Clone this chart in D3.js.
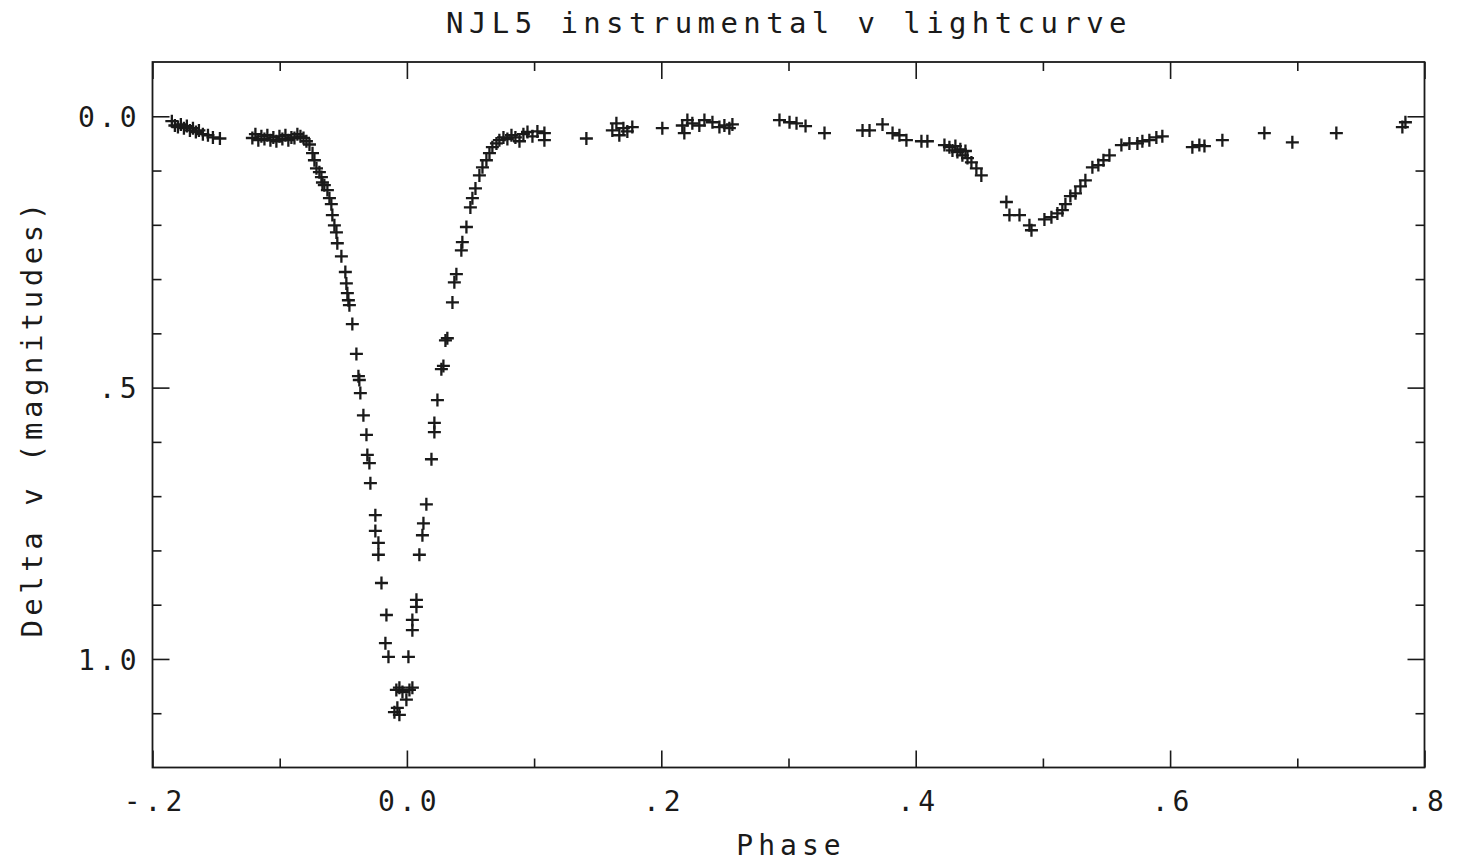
<!DOCTYPE html>
<html>
<head>
<meta charset="utf-8">
<script src="https://cdn.jsdelivr.net/npm/d3@7"></script>
<style>
  html, body { margin: 0; padding: 0; background: #fff; }
  svg { display: block; }
  text { font-family: "DejaVu Sans Mono", "Liberation Mono", monospace; fill: #1a1a1a; }
</style>
</head>
<body>
<svg id="chart" width="1464" height="865"></svg>
<script>
// Orbital phase of each observation
const phase = [
  -0.1848, -0.1824, -0.1800, -0.1777, -0.1753, -0.1730, -0.1706, -0.1682, -0.1659, -0.1635,
  -0.1604, -0.1564, -0.1525, -0.1470,
  -0.1215, -0.1191, -0.1168, -0.1144, -0.1120, -0.1097, -0.1073, -0.1050, -0.1026, -0.1002,
  -0.0979, -0.0955, -0.0932, -0.0908, -0.0884, -0.0861, -0.0837, -0.0813, -0.0790, -0.0766,
  -0.0742, -0.0727, -0.0711, -0.0688, -0.0672, -0.0664, -0.0649, -0.0625, -0.0609, -0.0594,
  -0.0586, -0.0570, -0.0554, -0.0547, -0.0515, -0.0484, -0.0476, -0.0468, -0.0460, -0.0452,
  -0.0429, -0.0397, -0.0381, -0.0374, -0.0366, -0.0342, -0.0318, -0.0311, -0.0295, -0.0287,
  -0.0248, -0.0248, -0.0224, -0.0224, -0.0200, -0.0161, -0.0169, -0.0145,
  -0.0083, -0.0059, -0.0035, -0.0004, 0.0020, 0.0043, -0.0098, -0.0075, -0.0059,
  0.0012, 0.0043, 0.0043, 0.0075, 0.0075, 0.0098, 0.0122, 0.0130, 0.0153, 0.0193,
  0.0216, 0.0216, 0.0240, 0.0271, 0.0287, 0.0303, 0.0318, 0.0358, 0.0373, 0.0389,
  0.0428, 0.0436, 0.0468, 0.0499, 0.0515, 0.0539, 0.0570, 0.0594, 0.0625, 0.0649,
  0.0672, 0.0704, 0.0727, 0.0759, 0.0790, 0.0822, 0.0853, 0.0885, 0.0916, 0.0948,
  0.0987, 0.1026, 0.1081, 0.1081,
  0.1411, 0.1615, 0.1647, 0.1670, 0.1702, 0.1733, 0.1772, 0.2008, 0.2165, 0.2181,
  0.2205, 0.2244, 0.2299, 0.2339, 0.2402, 0.2457, 0.2496, 0.2535, 0.2559,
  0.2929, 0.3008, 0.3063, 0.3134, 0.3283, 0.3582, 0.3637, 0.3739, 0.3818, 0.3872,
  0.3927, 0.4045, 0.4092, 0.4226, 0.4265, 0.4289, 0.4312, 0.4328, 0.4351, 0.4367,
  0.4391, 0.4407, 0.4438, 0.4477, 0.4516,
  0.4713, 0.4737, 0.4816, 0.4894, 0.4910, 0.5012, 0.5067, 0.5114, 0.5153, 0.5177,
  0.5216, 0.5256, 0.5295, 0.5334, 0.5389, 0.5436, 0.5476, 0.5523, 0.5617, 0.5680,
  0.5743, 0.5782, 0.5837, 0.5892, 0.5939,
  0.6175, 0.6230, 0.6270, 0.6411, 0.6741, 0.6961, 0.7307, 0.7826, 0.7850
];

// Differential v magnitude at each phase
const deltaV = [
  0.009, 0.017, 0.020, 0.015, 0.022, 0.018, 0.026, 0.022, 0.029, 0.026,
  0.033, 0.035, 0.039, 0.041,
  0.040, 0.033, 0.044, 0.037, 0.042, 0.035, 0.044, 0.039, 0.046, 0.037,
  0.042, 0.035, 0.044, 0.039, 0.040, 0.033, 0.037, 0.040, 0.046, 0.052,
  0.068, 0.081, 0.096, 0.103, 0.112, 0.122, 0.127, 0.136, 0.151, 0.162,
  0.182, 0.201, 0.214, 0.234, 0.258, 0.287, 0.308, 0.326, 0.339, 0.348,
  0.383, 0.438, 0.479, 0.486, 0.510, 0.551, 0.587, 0.624, 0.639, 0.676,
  0.735, 0.764, 0.786, 0.808, 0.860, 0.919, 0.971, 0.996,
  1.057, 1.053, 1.061, 1.075, 1.057, 1.053, 1.098, 1.090, 1.103,
  0.996, 0.947, 0.928, 0.904, 0.891, 0.808, 0.772, 0.750, 0.715, 0.632,
  0.582, 0.565, 0.523, 0.466, 0.460, 0.413, 0.409, 0.343, 0.306, 0.291,
  0.247, 0.232, 0.204, 0.168, 0.151, 0.133, 0.109, 0.094, 0.081, 0.068,
  0.057, 0.050, 0.044, 0.039, 0.042, 0.035, 0.039, 0.046, 0.033, 0.029,
  0.037, 0.028, 0.031, 0.044,
  0.041, 0.026, 0.013, 0.035, 0.022, 0.028, 0.020, 0.022, 0.017, 0.031,
  0.007, 0.013, 0.017, 0.007, 0.011, 0.020, 0.017, 0.022, 0.015,
  0.007, 0.011, 0.013, 0.018, 0.031, 0.026, 0.026, 0.015, 0.031, 0.035,
  0.044, 0.046, 0.046, 0.053, 0.057, 0.063, 0.055, 0.066, 0.061, 0.072,
  0.064, 0.077, 0.085, 0.096, 0.109,
  0.158, 0.182, 0.182, 0.201, 0.210, 0.190, 0.186, 0.179, 0.173, 0.162,
  0.147, 0.142, 0.129, 0.118, 0.094, 0.090, 0.081, 0.072, 0.053, 0.050,
  0.050, 0.046, 0.044, 0.039, 0.037,
  0.057, 0.053, 0.055, 0.044, 0.031, 0.048, 0.031, 0.020, 0.011
];

// Axis ticks and their labels
const xMajorTicks = [-0.2, 0.0, 0.2, 0.4, 0.6, 0.8];
const xMajorLabels = ["-.2", "0.0", ".2", ".4", ".6", ".8"];
const xMinorTicks = [-0.1, 0.1, 0.3, 0.5, 0.7];
const yMajorTicks = [0.0, 0.5, 1.0];
const yMajorLabels = ["0.0", ".5", "1.0"];
const yMinorTicks = [0.1, 0.2, 0.3, 0.4, 0.6, 0.7, 0.8, 0.9, 1.1];

const titleText = "NJL5 instrumental v lightcurve";
const xTitle = "Phase";
const yTitle = "Delta v (magnitudes)";

const svg = d3.select("#chart");
const plotLeft = 152.5, plotRight = 1424.5, plotTop = 62, plotBottom = 767.5;
const ink = "#1a1a1a";

const x = d3.scaleLinear().domain([-0.2, 0.8]).range([plotLeft, plotRight]);
const y = d3.scaleLinear().domain([-0.1, 1.2]).range([plotTop, plotBottom]);

const majorLen = 17, minorLen = 9;

function styleAxis(g) {
  g.select(".domain").remove();
  g.selectAll(".tick line").attr("stroke", ink).attr("stroke-width", 1.6);
}

// Bottom axis (ticks point up into the plot)
svg.append("g").attr("transform", `translate(0,${plotBottom})`)
  .call(d3.axisBottom(x).tickValues(xMinorTicks).tickSize(-minorLen).tickFormat(""))
  .call(styleAxis);
const bx = svg.append("g").attr("transform", `translate(0,${plotBottom})`)
  .call(d3.axisBottom(x).tickValues(xMajorTicks).tickSize(-majorLen)
    .tickPadding(0).tickFormat((d, i) => xMajorLabels[i]))
  .call(styleAxis);
bx.selectAll(".tick text")
  .attr("y", 0).attr("dy", 0)
  .attr("transform", "translate(2,43)")
  .style("font-size", "28px").style("letter-spacing", "4px")
  .attr("fill", ink);

// Top axis (ticks point down)
svg.append("g").attr("transform", `translate(0,${plotTop})`)
  .call(d3.axisTop(x).tickValues(xMinorTicks).tickSize(-minorLen).tickFormat(""))
  .call(styleAxis);
svg.append("g").attr("transform", `translate(0,${plotTop})`)
  .call(d3.axisTop(x).tickValues(xMajorTicks).tickSize(-majorLen).tickFormat(""))
  .call(styleAxis);

// Left axis (ticks point right)
svg.append("g").attr("transform", `translate(${plotLeft},0)`)
  .call(d3.axisLeft(y).tickValues(yMinorTicks).tickSize(-minorLen).tickFormat(""))
  .call(styleAxis);
const ly = svg.append("g").attr("transform", `translate(${plotLeft},0)`)
  .call(d3.axisLeft(y).tickValues(yMajorTicks).tickSize(-majorLen)
    .tickPadding(0).tickFormat((d, i) => yMajorLabels[i]))
  .call(styleAxis);
ly.selectAll(".tick text")
  .attr("x", -12).attr("dy", "0.36em")
  .style("font-size", "28px").style("letter-spacing", "4px")
  .attr("fill", ink);

// Right axis (ticks point left)
svg.append("g").attr("transform", `translate(${plotRight},0)`)
  .call(d3.axisRight(y).tickValues(yMinorTicks).tickSize(-minorLen).tickFormat(""))
  .call(styleAxis);
svg.append("g").attr("transform", `translate(${plotRight},0)`)
  .call(d3.axisRight(y).tickValues(yMajorTicks).tickSize(-majorLen).tickFormat(""))
  .call(styleAxis);

// Plot frame
svg.append("rect")
  .attr("x", plotLeft).attr("y", plotTop)
  .attr("width", plotRight - plotLeft).attr("height", plotBottom - plotTop)
  .attr("fill", "none").attr("stroke", ink).attr("stroke-width", 1.8);

// Observations drawn as plus signs
const arm = 6.5;
const pts = phase.map((p, i) => ({ p, m: deltaV[i] }));
svg.append("g").selectAll("path")
  .data(pts)
  .join("path")
  .attr("d", d => {
    const cx = x(d.p), cy = y(d.m);
    return `M${cx - arm},${cy}H${cx + arm}M${cx},${cy - arm}V${cy + arm}`;
  })
  .attr("stroke", ink).attr("stroke-width", 2.3).attr("fill", "none");

// Titles
svg.append("text")
  .attr("x", 789).attr("y", 33)
  .attr("text-anchor", "middle")
  .style("font-size", "29px").style("letter-spacing", "5.4px")
  .text(titleText);

svg.append("text")
  .attr("x", 791).attr("y", 855)
  .attr("text-anchor", "middle")
  .style("font-size", "28px").style("letter-spacing", "5px")
  .text(xTitle);

svg.append("text")
  .attr("transform", "translate(42,418) rotate(-90)")
  .attr("text-anchor", "middle")
  .style("font-size", "29px").style("letter-spacing", "4.5px")
  .text(yTitle);
</script>
</body>
</html>
